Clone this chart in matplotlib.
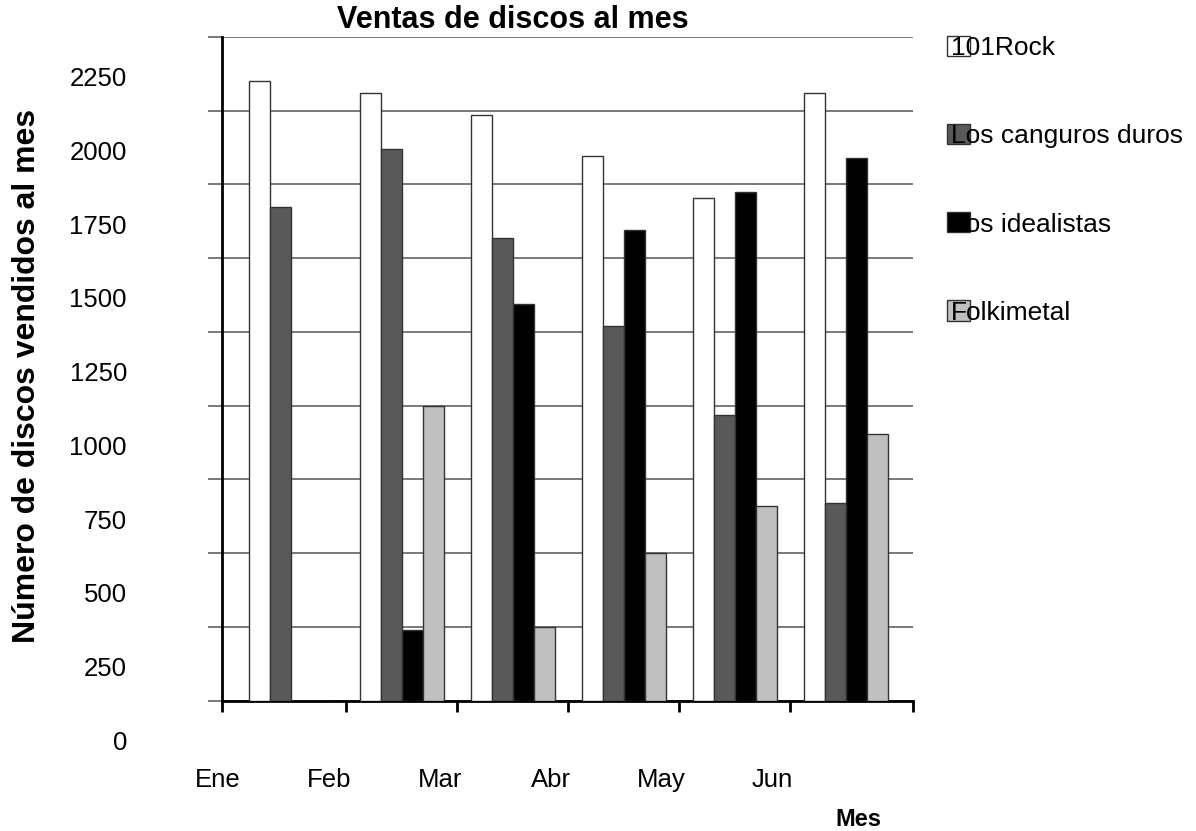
import matplotlib
matplotlib.use("Agg")
import matplotlib.pyplot as plt
import numpy as np

plt.rcParams['font.family'] = ['Liberation Sans', 'DejaVu Sans']

months = ["Ene", "Feb", "Mar", "Abr", "May", "Jun"]
series_names = ["101Rock", "Los canguros duros", "Los idealistas", "Folkimetal"]
rock = [2100, 2060, 1985, 1845, 1705, 2060]
canguros = [1675, 1870, 1570, 1270, 970, 670]
idealistas = [0, 240, 1345, 1595, 1725, 1840]
folkimetal = [0, 1000, 250, 500, 660, 905]
y_tick_values = [0, 250, 500, 750, 1000, 1250, 1500, 1750, 2000, 2250]

series = [rock, canguros, idealistas, folkimetal]
colors = ["#ffffff", "#595959", "#000000", "#c0c0c0"]

W, H = 1196, 831
fig = plt.figure(figsize=(W / 100, H / 100), dpi=100)
ax = fig.add_axes([222 / W, 1 - 700.7 / H, (913 - 222) / W, (700.7 - 37) / H])

x = np.arange(len(months)) + 0.5
bw = 0.19
offsets = [-1.5, -0.5, 0.5, 1.5]
handles = []
for vals, col, off, name in zip(series, colors, offsets, series_names):
    b = ax.bar(x + off * bw, vals, width=bw, color=col, edgecolor="#333333",
               linewidth=1.0, zorder=3, label=name)
    handles.append(b)

ax.set_xlim(-0.1216, 6.104)
ax.set_ylim(0, 2250)

# gridlines and ticks
ax.set_yticks(y_tick_values)
ax.set_yticklabels([])
ax.yaxis.grid(True, color="#555555", linewidth=1.1)
ax.set_axisbelow(True)
ax.tick_params(axis="y", direction="out", length=10, width=1.1, color="#555555")

xt = [ax.get_xlim()[0], 1, 2, 3, 4, 5, ax.get_xlim()[1]]
ax.set_xticks(xt)
ax.set_xticklabels([])
ax.tick_params(axis="x", direction="out", length=8, width=2, color="black")

for s in ["top", "right"]:
    ax.spines[s].set_visible(False)
for s in ["left", "bottom"]:
    ax.spines[s].set_linewidth(2)
    ax.spines[s].set_color("black")
    ax.spines[s].set_zorder(2.5)

# y value labels (offset from gridlines as in the original)
ytr = ax.get_yaxis_transform()
for v in y_tick_values:
    ax.text(-0.1375, v - 142.5, str(v), transform=ytr, ha="right", va="center",
            fontsize=18.5, clip_on=False)

# month labels (offset left of the groups)
xtr = ax.get_xaxis_transform()
for i, m in enumerate(months):
    ax.text(i - 0.16, -0.1195, m, transform=xtr, ha="center", va="center",
            fontsize=18.5, clip_on=False)

fig.text(513 / W, 1 - 20 / H, "Ventas de discos al mes", ha="center", va="center",
         fontsize=22, fontweight="bold")
fig.text(27 / W, 1 - 376 / H, "Número de discos vendidos al mes", rotation=90,
         ha="center", va="center", fontsize=23, fontweight="bold")
fig.text(858 / W, 1 - 819 / H, "Mes", ha="center", va="center",
         fontsize=17, fontweight="bold")

ax.legend(handles=handles, labels=series_names, loc="upper left",
          bbox_to_anchor=(947 / W, 1 - 36 / H), bbox_transform=fig.transFigure,
          frameon=False, borderpad=0, borderaxespad=0, handlelength=0.86,
          handleheight=0.8, handletextpad=-0.72, labelspacing=2.42, fontsize=19)

fig.savefig("out.png", dpi=100)
